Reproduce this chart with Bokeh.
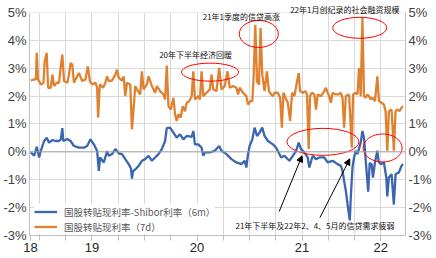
from bokeh.plotting import figure
from bokeh.models import (Range1d, LinearAxis, FixedTicker, PrintfTickFormatter, Span,
                          Label, Arrow, NormalHead, Legend, LegendItem, BoxAnnotation)
from bokeh.embed import file_html
from bokeh.resources import INLINE

# ---- data (observation index, percent) ----
blue_x = [0.65, 2.35, 3.65, 4.85, 5.65, 7.35, 8.65, 9.85, 11.5, 13.15, 14.85, 15.75, 16.5, 17, 19,
          20.65, 22.35, 24.85, 27.35, 29, 30.65, 32.35, 34, 34.85, 35.5, 37.35, 39, 39.85, 41.5,
          43.15, 44.85, 46.5, 48.15, 49.85, 51, 51.5, 52, 53.15, 54.85, 56.5, 58.15, 59.85, 61.5,
          63.15, 64.85, 66.5, 68.15, 69, 70.65, 72.35, 74, 75.65, 77.35, 79, 81.5, 82.35, 83.15,
          84.85, 86.5, 87.35, 88.15, 90.65, 93.15, 95.35, 96.5, 99, 101.5, 104, 106.5, 108.15,
          109, 109.85, 110.65, 112, 113.15, 114.35, 115.65, 117, 118.15, 119.85, 122.35, 124,
          126.5, 128.15, 130.65, 132.35, 134, 135.35, 136.5, 138.15, 139.85, 140.65, 142.35, 144,
          145.65, 148.15, 149.85, 152.35, 154.85, 156.5, 157.35, 158.15, 159, 159.85, 161, 161.5,
          162.35, 163.15, 164, 164.85, 166.5, 167.35, 168.15, 169, 170.25, 171, 172, 172.65,
          173.65, 174.85, 175.5, 176.5, 178.15, 179.35, 179.85, 180.65, 182, 183.15, 184, 185.65,
          187, 187.75]
blue_y = [-0.02, -0.14, 0.18, -0.2, 0.03, 0.39, 0.51, 0.33, 0.42, 0.39, 0.39, 0.45, 0.85, 0.39, 0.46,
          0.39, 0.21, 0.15, 0.15, 0.21, 0.45, 0.27, 0.03, -0.68, -0.2, -0.38, 0.03, -0.14, -0.08,
          0.1, -0.05, -0.08, -0.26, -0.44, -0.6, -0.96, -0.7, -0.63, -0.5, -0.32, -0.26, -0.14, -0.32,
          -0.2, -0.08, 0.1, 0.39, 0.85, 0.87, 0.69, 0.51, 0.63, 0.45, 0.57, 0.54, 0.75, 0.27,
          0.27, 0.15, -0.14, -0.02, -0.02, 0.04, 0.21, 0.04, -0.08, -0.26, -0.38, -0.44, -0.32,
          -0.56, -0.08, 0.21, 0.45, 0.87, 0.57, 0.69, 0.87, 0.57, 0.39, 0.27, 0.15,
          -0.2, -0.14, -0.32, -0.14, 0.04, 0.33, 0.1, -0.02, -0.2, -0.56, -0.14, -0.26,
          -0.2, -0.2, -0.38, -0.32, -0.44, -0.5, -0.68, -1.04, -1.39, -1.87, -2.46, -1.63,
          -0.56, -0.2, 0.04, -0.08, 0.33, 0.75, 0.5, -0.3, -1.43, -0.4, -0.45, -0.92,
          -0.38, 0.04, -0.35, -0.44, -0.38, -0.92, -1.6, -0.92, -0.8, -1.89, -0.8, -0.74,
          -0.5, -0.44]

orange_x = [0.65, 2.35, 3.25, 3.65, 4.25, 4.85, 5.65, 7, 7.65, 8.65, 9.35, 10.65, 11.5, 12.35, 13.65,
            14.85, 15.65, 16.5, 17.35, 19, 19.85, 20.65, 21.5, 22.35, 23.15, 24.85, 26.5, 28.15,
            29.35, 30.35, 31.5, 33.15, 34, 34.5, 35.35, 37, 38.15, 39, 39.85, 41.5, 43.15, 44,
            44.85, 46.5, 47.35, 48.15, 49, 50.65, 51.5, 52.35, 53.15, 54, 55.65, 56.5, 57.35, 59,
            59.85, 61.5, 63.15, 64, 65.65, 67.35, 68.15, 69, 69.85, 71, 72.35, 73.15, 74, 74.85,
            76, 77, 78.15, 79, 80.35, 81.5, 82.35, 83.15, 84.85, 85.65, 86.5, 87.35, 89, 90.65,
            91.5, 92.35, 94, 95.35, 96.5, 98.15, 99.5, 100.65, 102.35, 104, 104.85, 105.65,
            107.35, 109, 109.85, 111, 112, 112.65, 113.5, 114.35, 115.35, 116.15, 117, 118.15,
            119.35, 120.35, 121.5, 122.35, 123.15, 124.85, 126, 126.85, 127.65, 128.65, 129.85,
            131, 132, 133.15, 134.35, 135.35, 136, 137.35, 138.65, 139.5, 140.35, 141, 142,
            143.15, 144, 144.85, 146.5, 148.15, 149, 149.85, 150.65, 151.5, 152.35, 154, 155.35,
            156.5, 157.35, 158.15, 159, 160.65, 162, 162.65, 164, 164.85, 165.65, 166.5, 167.35,
            168.15, 169, 169.85, 170.65, 171.5, 172.35, 173.65, 174.85, 175.65, 177, 178.15, 179,
            179.85, 180.65, 182, 183.15, 184, 184.85, 186, 187, 187.75]
orange_y = [2.56, 2.6, 2.6, 3.55, 2.6, 2.54, 2.42, 2.47, 3.25, 3.55, 2.3, 2.3, 2.77, 2.36, 2.48,
            2.48, 3.01, 3.49, 2.54, 2.48, 2.77, 3.19, 3.13, 2.48, 2.6, 2.83, 2.54, 2.6,
            3.07, 2.54, 2.42, 2.48, 2.3, 1.23, 2.42, 2.3, 2.48, 2.71, 2.54, 2.56, 2.77, 2.95,
            2.66, 2.56, 2.71, 2.0, 2.48, 2.42, 0.81, 1.58, 2.36, 2.24, 2.06, 2.89, 2.24, 2.42,
            2.71, 2.36, 2.12, 2.36, 2.18, 2.06, 1.88, 3.1, 1.64, 1.52, 1.94, 1.35, 1.11, 1.35,
            1.23, 1.64, 1.46, 1.76, 1.82, 2.0, 2.89, 1.88, 2.0, 1.88, 2.89, 2.0, 2.12, 2.24,
            2.77, 2.24, 2.18, 3.01, 2.24, 2.36, 2.89, 2.3, 2.36, 2.3, 2.06, 2.3,
            2.12, 2.0, 1.7, 1.82, 1.82, 2.65, 4.56, 2.53, 2.41, 4.44, 2.77, 2.18,
            2.89, 2.18, 2.06, 2.0, 2.12, 2.12, 1.94, 0.87, 2.12, 1.94, 1.76,
            1.11, 2.12, 2.0, 2.48, 2.83, 2.18, 2.12, 2.18, 2.06, 0.1, 2.0, 2.12,
            2.06, 1.52, 2.06, 2.0, 2.18, 2.3, 2.12, 2.0, 1.76, 2.12, 2.06, 2.06,
            2.12, 1.94, 0.87, 2.0, 2.06, 0.15, 2.06, 2.12, 2.06, 3.01, 2.0, 4.8,
            2.0, 1.94, 2.06, 2.0, 1.88, 1.94, 1.82, 2.71, 1.82, 1.76, 1.7, 1.46,
            0.04, 1.46, 1.52, 0.04, 1.46, 1.52, 1.46, 1.58, 1.64]

y_ticks = [-3, -2, -1, 0, 1, 2, 3, 4, 5]
x_grid = [5, 18.2, 31.4, 44.6, 57.8, 71, 84.2, 97.4, 110.6, 123.8, 137, 150.2, 163.4, 176.6]
x_label_pos = [0.5, 31.4, 84.2, 137, 176.6]
x_label_txt = ["18", "19", "20", "21", "22"]

series_names = ["国股转贴现利率-Shibor利率（6m）", "国股转贴现利率（7d）"]
BLUE = "#3A66B0"
ORANGE = "#E0812F"
GRID = "#D9D9D9"
CJK = "Noto Sans CJK SC"
NUM = "Liberation Sans"

p = figure(width=436, height=258, output_backend="svg", toolbar_location=None,
           x_range=Range1d(0, 189), y_range=Range1d(-3, 5.43),
           min_border_left=27, min_border_right=31, min_border_top=0, min_border_bottom=23)
p.outline_line_color = None
p.background_fill_color = "white"
p.border_fill_color = "white"

# axes
p.yaxis[0].ticker = FixedTicker(ticks=y_ticks)
p.yaxis[0].formatter = PrintfTickFormatter(format="%d%%")
right = LinearAxis(ticker=FixedTicker(ticks=y_ticks), formatter=PrintfTickFormatter(format="%d%%"))
p.add_layout(right, "right")
for ax in [p.yaxis[0], right]:
    ax.bounds = (-3, 5)
    ax.axis_line_color = "#BFBFBF"
    ax.major_tick_line_color = None
    ax.minor_tick_line_color = None
    ax.major_tick_out = 0
    ax.major_tick_in = 0
    ax.minor_tick_out = 0
    ax.minor_tick_in = 0
    ax.major_label_text_font = NUM
    ax.major_label_text_font_size = "13px"
    ax.major_label_text_color = "#404040"
    ax.major_label_standoff = 3

xa = p.xaxis[0]
xa.ticker = FixedTicker(ticks=x_label_pos[:1] + x_grid)
overrides = {t: "" for t in x_grid}
for t, s in zip(x_label_pos, x_label_txt):
    overrides[t] = s
xa.major_label_overrides = overrides
xa.axis_line_color = "#BFBFBF"
xa.major_tick_line_color = "#BFBFBF"
xa.major_tick_in = 0
xa.major_tick_out = 5
xa.minor_tick_line_color = None
xa.minor_tick_out = 0
xa.major_label_text_font = NUM
xa.major_label_text_font_size = "13px"
xa.major_label_text_color = "#262626"
xa.major_label_standoff = 2

p.xgrid.ticker = FixedTicker(ticks=x_grid)
p.ygrid.ticker = FixedTicker(ticks=y_ticks)
p.xgrid.grid_line_color = GRID
p.ygrid.grid_line_color = GRID

# blank strip above the 5% line (grid stops at the top of the value axis)
p.add_layout(BoxAnnotation(bottom=5, fill_color="white", fill_alpha=1, line_color=None,
                           level="underlay"))
p.add_layout(Span(location=0, dimension="width", line_color="#A6A6A6", line_width=1))

r_blue = p.line(blue_x, blue_y, line_color=BLUE, line_width=2.3)
r_orange = p.line(orange_x, orange_y, line_color=ORANGE, line_width=2.3)

# annotation ellipses
p.ellipse(x=[90.75, 115.25, 166, 147.5, 177.5], y=[2.86, 4.23, 4.45, 0.36, 0.14],
          width=[57, 39, 54, 72, 39], height=[18, 27, 21, 27, 28],
          width_units="screen", height_units="screen",
          fill_color=None, line_color="#FF0000", line_width=1)

def lab(x, y, t, size="8px", color="#111111", **kw):
    p.add_layout(Label(x=x, y=y, text=t, text_font=CJK, text_font_size=size,
                       text_color=color, text_align="center", text_baseline="middle", **kw))

lab(83.5, 3.5, "20年下半年经济回暖")
lab(106.5, 4.86, "21年1季度的信贷高涨")
lab(158.5, 5.12, "22年1月创纪录的社会融资规模")
lab(143.5, -2.64, "21年下半年及22年2、4、5月的信贷需求疲弱")
lab(359, -6, "中国宏观研究中心", size="11px", color="#A0A0A0",
    x_units="screen", y_units="screen")

for xs, ys, xe, ye in [(125.5, -2.14, 137, -0.14), (146, -2.36, 161, -0.25)]:
    p.add_layout(Arrow(end=NormalHead(size=6, fill_color="black", line_color="black"),
                       x_start=xs, y_start=ys, x_end=xe, y_end=ye,
                       line_color="black", line_width=1))

legend = Legend(items=[LegendItem(label=series_names[0], renderers=[r_blue]),
                       LegendItem(label=series_names[1], renderers=[r_orange])],
                location=(5, 1), orientation="vertical")
legend.label_text_font = CJK
legend.label_text_font_size = "9.5px"
legend.label_text_color = "#595959"
legend.glyph_width = 23
legend.glyph_height = 15
legend.label_height = 15
legend.label_standoff = 7
legend.spacing = 0
legend.padding = 4
legend.margin = 0
legend.border_line_color = None
legend.background_fill_color = "white"
legend.background_fill_alpha = 1
p.add_layout(legend)

open("out.html", "w").write(file_html(p, INLINE))
